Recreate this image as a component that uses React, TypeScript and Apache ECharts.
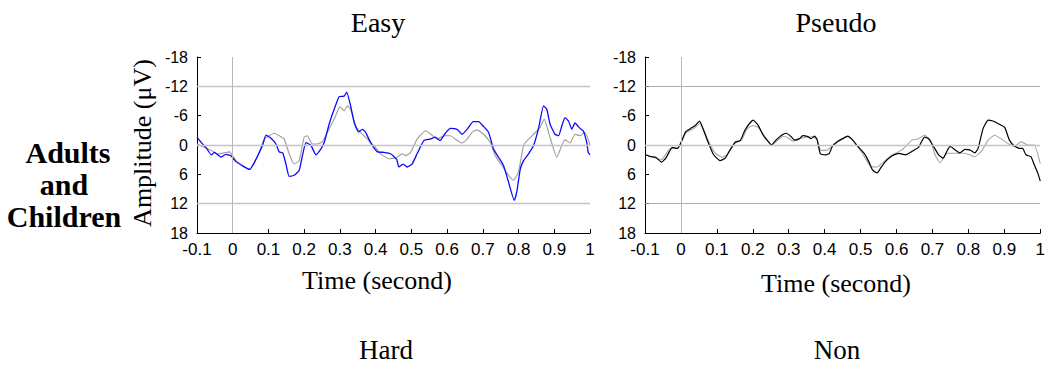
import React, { useEffect, useRef } from "react";
import * as echarts from "echarts";

// ---------- data ----------
const xTickValues = [-0.1, 0, 0.1, 0.2, 0.3, 0.4, 0.5, 0.6, 0.7, 0.8, 0.9, 1];
const yTickValues = [-18, -12, -6, 0, 6, 12, 18];
const refLinesY = [-12, 0, 12];
const refLineX = 0;

const panelTitles = ["Easy", "Pseudo"];
const bottomTitles = ["Hard", "Non"];
const rowLabel = ["Adults", "and", "Children"];
const xAxisName = "Time (second)";
const yAxisName = "Amplitude (\u03bcV)";

// Easy: blue curve
const easyBlueT = [-0.1, -0.088, -0.074, -0.06, -0.051, -0.042, -0.033, -0.019, -0.005, 0.009, 0.028, 0.047, 0.056, 0.07, 0.084, 0.093, 0.107, 0.121, 0.13, 0.14, 0.149, 0.158, 0.172, 0.186, 0.195, 0.205, 0.219, 0.233, 0.247, 0.256, 0.27, 0.284, 0.298, 0.312, 0.319, 0.33, 0.34, 0.352, 0.363, 0.372, 0.386, 0.405, 0.423, 0.442, 0.459, 0.465, 0.477, 0.488, 0.502, 0.516, 0.535, 0.553, 0.567, 0.58, 0.595, 0.609, 0.628, 0.642, 0.656, 0.673, 0.688, 0.702, 0.716, 0.73, 0.744, 0.758, 0.772, 0.788, 0.795, 0.805, 0.814, 0.828, 0.842, 0.856, 0.87, 0.879, 0.888, 0.902, 0.912, 0.921, 0.93, 0.94, 0.949, 0.958, 0.972, 0.981, 0.991, 0.995, 1.0];
const easyBlueV = [-1.6, -0.5, 0.6, 2.0, 1.5, 2.0, 2.5, 1.9, 2.2, 3.4, 4.3, 5.0, 4.2, 2.2, 0, -2.0, -1.4, -0.2, 1.4, 1.6, 3.9, 6.4, 6.2, 5.2, 2.2, -0.5, 0.1, 2.0, 0.8, -0.5, -4.3, -7.3, -9.9, -10.0, -10.8, -8.0, -4.6, -2.7, -3.2, -2.6, -0.5, 1.4, 1.5, 1.8, 3.0, 4.5, 3.9, 4.5, 3.9, 1.8, -0.9, -1.2, -1.6, -0.9, -2.4, -3.4, -3.2, -2.2, -3.2, -4.8, -4.8, -3.8, -2.6, 0.8, 2.5, 4.2, 7.6, 11.3, 9.6, 4.9, 3.2, 1.8, 0.1, -3.4, -8.0, -7.3, -4.3, -2.2, -1.9, -3.9, -5.6, -4.9, -3.2, -4.5, -3.4, -2.9, -0.5, 1.5, 2.0];

// Easy: gray curve
const easyGrayT = [-0.1, -0.079, -0.06, -0.042, -0.023, -0.009, 0.009, 0.028, 0.047, 0.07, 0.088, 0.102, 0.116, 0.13, 0.144, 0.158, 0.172, 0.186, 0.2, 0.209, 0.223, 0.237, 0.251, 0.265, 0.284, 0.3, 0.312, 0.321, 0.33, 0.344, 0.358, 0.377, 0.395, 0.414, 0.437, 0.46, 0.474, 0.484, 0.498, 0.516, 0.54, 0.558, 0.572, 0.591, 0.609, 0.623, 0.642, 0.656, 0.67, 0.684, 0.702, 0.721, 0.735, 0.753, 0.772, 0.786, 0.8, 0.814, 0.828, 0.842, 0.86, 0.872, 0.884, 0.898, 0.907, 0.921, 0.93, 0.944, 0.958, 0.972, 0.986, 1.0];
const easyGrayV = [-0.2, 0.5, 1.1, 1.8, 1.6, 1.4, 3.2, 4.2, 5.0, 2.2, -1.2, -1.9, -2.4, -1.9, -1.2, 1.8, 3.9, 3.2, -1.6, -1.9, -0.2, -0.2, -0.7, -2.6, -5.3, -7.8, -7.0, -8.0, -7.3, -3.9, -2.6, -1.2, 0.1, 1.8, 2.8, 2.5, 1.8, 2.2, 1.5, -1.2, -2.9, -2.0, -1.2, -1.9, -1.9, -1.2, -0.4, -1.2, -2.6, -3.1, -2.2, -0.5, 2.2, 4.2, 6.2, 7.2, 5.5, 0.1, -1.2, -2.2, -3.6, -5.3, -2.6, 0.8, 2.5, 0.1, -1.1, -0.4, -2.2, -1.9, -2.6, 0];

// Pseudo: black curve
const pseudoBlackT = [-0.098, -0.084, -0.07, -0.054, -0.042, -0.024, -0.01, -0.001, 0.013, 0.027, 0.04, 0.052, 0.063, 0.077, 0.091, 0.109, 0.123, 0.137, 0.151, 0.165, 0.178, 0.192, 0.201, 0.215, 0.229, 0.243, 0.252, 0.266, 0.28, 0.293, 0.307, 0.316, 0.33, 0.339, 0.353, 0.362, 0.372, 0.379, 0.388, 0.404, 0.413, 0.422, 0.436, 0.45, 0.464, 0.477, 0.491, 0.51, 0.523, 0.533, 0.546, 0.556, 0.569, 0.588, 0.606, 0.625, 0.643, 0.661, 0.678, 0.689, 0.703, 0.717, 0.73, 0.74, 0.749, 0.763, 0.776, 0.79, 0.804, 0.818, 0.827, 0.841, 0.855, 0.868, 0.882, 0.901, 0.914, 0.928, 0.942, 0.951, 0.96, 0.974, 0.983, 0.993, 1.0];
const pseudoBlackV = [2.0, 2.4, 2.5, 3.5, 2.7, 0.5, 0.7, -0.3, -2.7, -3.4, -4.0, -4.9, -3.0, -0.3, 2.0, 3.2, 2.7, 1.0, -0.5, -0.9, -3.0, -4.5, -5.1, -4.0, -2.0, -0.7, 0, -1.1, -2.0, -2.4, -1.7, -1.0, -1.3, -1.9, -1.7, -1.3, -1.8, -1.1, 1.8, 2.0, 1.7, 0.2, -0.7, -1.3, -1.8, -1.1, 0.2, 1.7, 3.4, 5.1, 5.7, 4.7, 3.4, 2.2, 1.7, 2.0, 1.3, 0.5, -1.6, -1.3, 0.3, 2.0, 2.7, 1.3, 0.3, 1.0, 1.6, 0.9, 1.0, 1.6, 0.7, -3.4, -5.1, -4.9, -4.4, -3.6, -1.0, 0.2, 0.7, 0.7, 2.0, 2.4, 4.0, 5.7, 7.4];

// Pseudo: gray curve
const pseudoGrayT = [-0.098, -0.07, -0.054, -0.029, -0.01, -0.001, 0.013, 0.04, 0.052, 0.063, 0.077, 0.096, 0.114, 0.128, 0.151, 0.169, 0.183, 0.2, 0.215, 0.234, 0.252, 0.27, 0.284, 0.298, 0.312, 0.33, 0.349, 0.367, 0.379, 0.39, 0.408, 0.422, 0.441, 0.464, 0.482, 0.505, 0.528, 0.546, 0.565, 0.588, 0.615, 0.643, 0.661, 0.678, 0.694, 0.707, 0.721, 0.74, 0.763, 0.79, 0.818, 0.836, 0.855, 0.873, 0.891, 0.91, 0.928, 0.947, 0.965, 0.983, 1.0];
const pseudoGrayV = [2.0, 2.7, 3.0, 0.7, 0.7, -0.2, -2.4, -3.6, -4.4, -3.2, -0.7, 1.7, 2.5, 2.0, -0.7, -1.0, -3.2, -4.0, -3.6, -1.7, 0, -1.0, -1.8, -1.5, -0.8, -1.3, -1.6, -1.7, -1.0, 1.1, 1.0, 0.2, -0.9, -1.7, -0.7, 1.7, 4.4, 4.5, 3.4, 2.0, 1.0, -1.0, -1.3, -2.0, -1.0, 2.0, 3.6, 1.7, 1.7, 1.7, 2.4, 1.3, -1.0, -2.0, -1.3, -0.3, 0.3, -0.7, 0, 0, 3.8];

const zip = (t: number[], v: number[]) => t.map((x, i) => [x, v[i]]);

export default function App() {
  const ref = useRef<HTMLDivElement>(null);

  useEffect(() => {
    if (!ref.current) return;
    const chart = echarts.init(ref.current, null, { renderer: "svg" });

    const xMin = xTickValues[0];
    const xMax = xTickValues[xTickValues.length - 1];
    const xInt = Math.round((xTickValues[1] - xTickValues[0]) * 1000) / 1000;
    const yMin = yTickValues[0];
    const yMax = yTickValues[yTickValues.length - 1];
    const yInt = yTickValues[1] - yTickValues[0];

    const grids = [
      { left: 197, top: 57, width: 393, height: 176 },
      { left: 645, top: 57, width: 398, height: 176 },
    ];

    const xAxes = grids.map((_, i) => ({
      type: "value",
      gridIndex: i,
      min: xMin,
      max: xMax,
      interval: xInt,
      axisLine: { onZero: false, lineStyle: { color: "#000", width: 1 } },
      axisTick: { inside: true, length: 4, lineStyle: { color: "#000" } },
      axisLabel: {
        fontFamily: "Liberation Sans",
        fontSize: 17,
        color: "#000",
        margin: 8,
        formatter: (v: number) => String(Math.round(v * 10) / 10),
      },
      splitLine: { show: false },
    }));

    const yAxes = grids.map((_, i) => ({
      type: "value",
      gridIndex: i,
      inverse: true,
      min: yMin,
      max: yMax,
      interval: yInt,
      axisLine: { show: true, onZero: false, lineStyle: { color: "#000", width: 1 } },
      axisTick: { show: true, inside: true, length: 4, lineStyle: { color: "#000" } },
      axisLabel: { fontFamily: "Liberation Sans", fontSize: 16, color: "#000", margin: 9 },
      splitLine: { show: false },
    }));

    const refLines = (i: number) => ({
      silent: true,
      symbol: ["none", "none"],
      label: { show: false },
      data: [
        ...refLinesY.map((y) => ({
          yAxis: y,
          lineStyle:
            i === 1 && y !== 0
              ? { color: "#9a9a9a", width: 0.8, type: "solid" }
              : { color: "#c4c4c4", width: 1.3, type: "solid" },
        })),
        { xAxis: refLineX, lineStyle: { color: "#b8b8b8", width: 1, type: "solid" } },
      ],
    });

    const lineSeries = (
      i: number,
      data: number[][],
      color: string,
      width: number,
      withRef: boolean,
      z: number
    ) => ({
      type: "line",
      xAxisIndex: i,
      yAxisIndex: i,
      data,
      showSymbol: false,
      symbol: "none",
      smooth: 0.15,
      z,
      lineStyle: { color, width },
      ...(withRef ? { markLine: refLines(i) } : {}),
    });

    const serif = "Liberation Serif";
    const txt = (
      text: string,
      x: number,
      y: number,
      size: number,
      extra: any = {}
    ) => ({
      type: "text",
      x,
      y,
      ...extra.el,
      style: {
        text,
        fontFamily: serif,
        fontSize: size,
        fontWeight: extra.bold ? "bold" : "normal",
        fill: "#000",
        align: "center",
        verticalAlign: "middle",
      },
    });

    chart.setOption({
      animation: false,
      backgroundColor: "#fff",
      grid: grids,
      xAxis: xAxes,
      yAxis: yAxes,
      series: [
        lineSeries(0, zip(easyGrayT, easyGrayV), "#9c9c9c", 1.1, true, 2),
        lineSeries(0, zip(easyBlueT, easyBlueV), "#0a0aff", 1.3, false, 3),
        lineSeries(1, zip(pseudoGrayT, pseudoGrayV), "#a6a6a6", 1.1, true, 2),
        lineSeries(1, zip(pseudoBlackT, pseudoBlackV), "#000000", 1.2, false, 3),
      ],
      graphic: [
        txt(panelTitles[0], 378, 22, 28),
        txt(panelTitles[1], 836, 22, 28),
        txt(xAxisName, 377, 280, 26),
        txt(xAxisName, 836, 283, 26),
        txt(yAxisName, 142, 143, 26, { el: { rotation: Math.PI / 2 } }),
        txt(rowLabel[0], 68, 152, 30, { bold: true }),
        txt(rowLabel[1], 64, 184, 30, { bold: true }),
        txt(rowLabel[2], 64, 216, 30, { bold: true }),
        txt(bottomTitles[0], 386, 350, 27),
        txt(bottomTitles[1], 837, 350, 27),
      ],
    });

    return () => chart.dispose();
  }, []);

  return (
    <div
      ref={ref}
      style={{ position: "fixed", left: 0, top: 0, width: 1048, height: 367, background: "#fff" }}
    />
  );
}
